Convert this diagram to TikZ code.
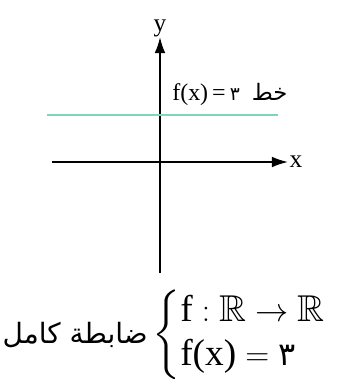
\documentclass[tikz,border=0pt]{standalone}
\usepackage{amsmath, amssymb}
\usepackage{fontspec}
\setmainfont{Liberation Serif}
\newfontfamily\arabicfont[Script=Arabic]{DejaVu Sans}
\TeXXeTstate=1
\usepackage{xcolor}
\definecolor{linegreen}{HTML}{7FD6B4}
\usetikzlibrary{arrows.meta, positioning, calc}

\begin{document}
\begin{tikzpicture}[
    x=0.75pt, y=-0.75pt,
    axis/.style={line width=1.3pt, -{Latex[length=12pt, width=8pt]}},
    lbl/.style={inner sep=0pt, font=\fontsize{19}{22}\selectfont}
  ]
  \useasboundingbox (0,0) rectangle (340,387);
  % axes
  \coordinate (xs) at (52,162);
  \coordinate (xe) at (288,162);
  \coordinate (ys) at (160,273);
  \coordinate (ye) at (160,37);
  \draw[axis] (xs) -- (xe);
  \draw[axis] (ys) -- (ye);
  \node[lbl, right=1pt of xe] (xl) {x};
  \node[lbl, above=0pt of ye] (yl) {y};
  % constant line
  \coordinate (gs) at (47,115);
  \coordinate (ge) at (278,115);
  \draw[linegreen, line width=1.8pt] (gs) -- (ge);
  \node[inner sep=0pt, anchor=south west, font=\fontsize{18}{20}\selectfont] (fl) at (172,106)
    {f(x)\,=\,{\arabicfont\fontsize{14}{16}\selectfont ۳}\enspace{\arabicfont\fontsize{17}{19}\selectfont\beginR خط\endR}};
  % definition
  \node[inner sep=0pt, anchor=west, font=\fontsize{28}{32}\selectfont] (def) at (152,335)
    {$\left\{\begin{array}{@{}l@{}}
      \text{f}:\mathbb{R}\rightarrow\mathbb{R}\\[1pt]
      \text{f(x)}=\text{\arabicfont\fontsize{24}{28}\selectfont ۳}
    \end{array}\right.$};
  \node[inner sep=0pt, left=3pt of def, font=\arabicfont\fontsize{21}{25}\selectfont] (name)
    {\beginR ضابطة کامل\endR};
\end{tikzpicture}
\end{document}
